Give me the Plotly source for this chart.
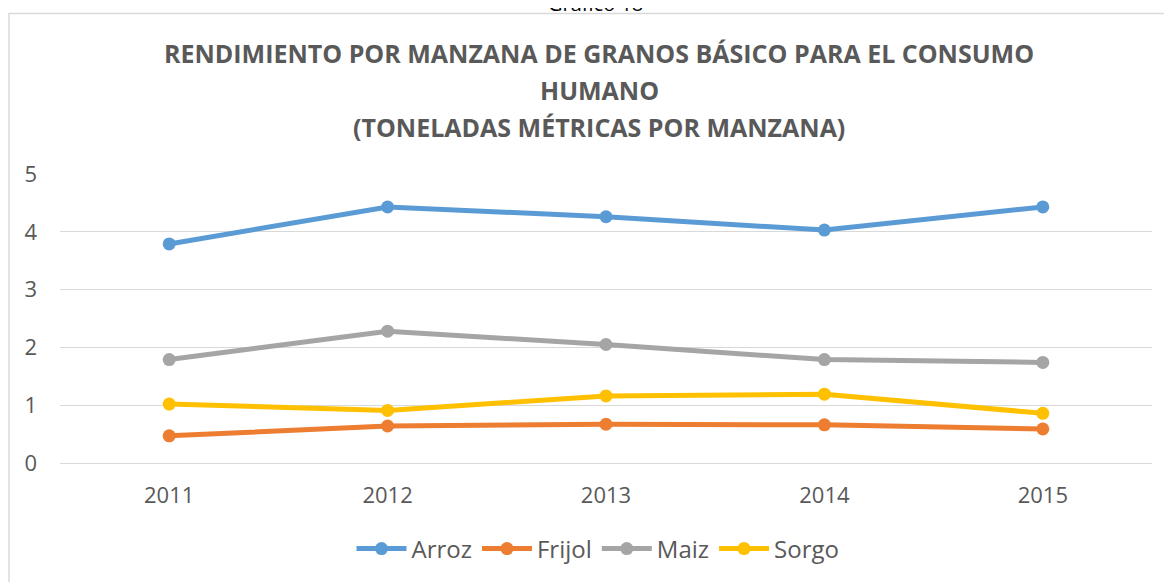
import plotly.graph_objects as go

# years on the category axis
years = ["2011", "2012", "2013", "2014", "2015"]

# toneladas metricas por manzana
arroz = [3.79, 4.43, 4.26, 4.03, 4.43]
frijol = [0.47, 0.64, 0.67, 0.66, 0.59]
maiz = [1.79, 2.28, 2.05, 1.79, 1.74]
sorgo = [1.02, 0.91, 1.16, 1.19, 0.86]

series = [
    ("Arroz", arroz, "#5B9BD5"),
    ("Frijol", frijol, "#ED7D31"),
    ("Maiz", maiz, "#A5A5A5"),
    ("Sorgo", sorgo, "#FFC000"),
]

# the page body adds an 8px margin, so the figure is 8px smaller and
# every position below is given in window pixels and shifted back
OFF = 8
W, H = 1172 - OFF, 582 - OFF
L, R, T, B = 60 - OFF, 20, 174 - OFF, 118
pw, ph = W - L - R, H - T - B


def px(x):
    return (x - OFF - L) / pw


def py(y):
    return (H - B - (y - OFF)) / ph


fig = go.Figure()
for name, vals, col in series:
    fig.add_trace(go.Scatter(
        x=years, y=vals, name=name,
        mode="lines+markers",
        line=dict(color=col, width=5),
        marker=dict(color=col, size=13),
    ))

fnt = "Open Sans"
grey = "#595959"

title_lines = [
    "RENDIMIENTO POR MANZANA DE GRANOS BÁSICO PARA EL CONSUMO",
    "HUMANO",
    "(TONELADAS MÉTRICAS POR MANZANA)",
]
title_y = [53, 90, 127]
annotations = []
for txt, yy in zip(title_lines, title_y):
    annotations.append(dict(
        text="<b>" + txt + "</b>", x=px(599), y=py(yy),
        xref="paper", yref="paper", showarrow=False,
        xanchor="center", yanchor="middle",
        font=dict(family=fnt, size=25, color=grey),
    ))

# caption above the box, cut off by the page edge as in the original
annotations.append(dict(
    text="Gráfico 18", x=px(595), y=py(18),
    xref="paper", yref="paper", showarrow=False,
    xanchor="center", yanchor="bottom",
    font=dict(family=fnt, size=20, color="#000000"),
))

fig.update_layout(
    width=W, height=H,
    margin=dict(l=L, r=R, t=T, b=B),
    paper_bgcolor="white", plot_bgcolor="white",
    font=dict(family=fnt, color=grey, size=22),
    showlegend=True,
    legend=dict(
        orientation="h", x=px(598), xanchor="center",
        y=py(549), yanchor="middle",
        itemwidth=50, font=dict(size=24, color=grey),
        traceorder="normal",
    ),
    xaxis=dict(
        type="category", range=[-0.5, 4.5],
        showgrid=False, showline=False, zeroline=False,
        ticks="", ticklabelstandoff=17,
        tickfont=dict(size=22, color=grey),
    ),
    yaxis=dict(
        range=[0, 5], dtick=1, tick0=0,
        showgrid=True, gridcolor="#D9D9D9", gridwidth=1.2,
        zeroline=True, zerolinecolor="#D9D9D9", zerolinewidth=1.2,
        showline=False, ticks="", ticklabelstandoff=22,
        tickfont=dict(size=22, color=grey),
    ),
    annotations=annotations,
    shapes=[dict(
        type="rect", xref="paper", yref="paper",
        x0=px(9), x1=px(1185), y0=py(600), y1=py(13),
        line=dict(color="#D9D9D9", width=1.5), layer="below",
    )],
)

fig.write_html("out.html")
